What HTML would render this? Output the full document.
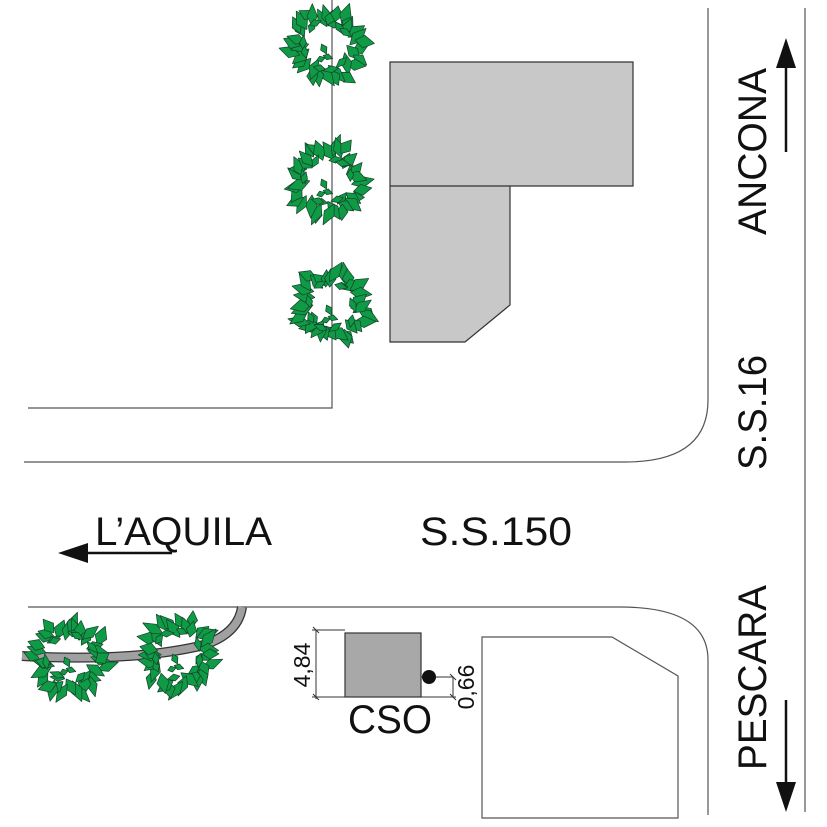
<!DOCTYPE html>
<html><head><meta charset="utf-8">
<style>html,body{margin:0;padding:0;background:#fff;}svg{display:block}</style>
</head><body>
<svg id="s" width="827" height="827" viewBox="0 0 827 827" xmlns="http://www.w3.org/2000/svg" font-family="Liberation Sans, Arial, sans-serif">
<rect width="827" height="827" fill="#fff"/>
<g fill="none" stroke="#555" stroke-width="1.2">
  <path d="M332 0 V408 H28"/>
  <path d="M24 462 H625 Q708 462 708 400 V8"/>
  <path d="M805 8 V812"/>
  <path d="M28 607 H620 Q708 607 708 660 V815"/>
  <path d="M482 637 H612 L678 676 V818 H482 Z"/>
</g>
<path d="M390 62 H633 V186 H510 V305 L465 342 H390 Z" fill="#c8c8c8" stroke="#333" stroke-width="1.2"/>
<path d="M390 186 H510" stroke="#333" stroke-width="1.2"/>
<path d="M22 656 Q130 662 200 646 Q238 635 242 607" fill="none" stroke="#333" stroke-width="10"/>
<path d="M22 656 Q130 662 200 646 Q238 635 242 607" fill="none" stroke="#a0a0a0" stroke-width="7.5"/>
<g id="trees"></g>
<rect x="345" y="633" width="76" height="64" fill="#a8a8a8" stroke="#333" stroke-width="1.2"/>
<g stroke="#333" stroke-width="1" fill="none">
  <path d="M316 630 V699 M312 630 H345 M312 697 H345 M313 627 L319 633 M313 694 L319 700"/>
  <path d="M421 677 H453 V697 M421 697 H456 M450 694 L456 700 M450 674 L456 680"/>
</g>
<circle cx="429" cy="677" r="7" fill="#111"/>
<g fill="#111" font-size="23">
  <text transform="translate(310 665) rotate(-90)" text-anchor="middle">4,84</text>
  <text transform="translate(474 687) rotate(-90)" text-anchor="middle">0,66</text>
</g>
<g fill="#111" font-size="40">
  <text x="348" y="733" textLength="84" lengthAdjust="spacingAndGlyphs">CSO</text>
  <text x="95" y="545" textLength="177" lengthAdjust="spacingAndGlyphs">L’AQUILA</text>
  <text x="420" y="545" textLength="152" lengthAdjust="spacingAndGlyphs">S.S.150</text>
  <text transform="translate(766 235) rotate(-90)" textLength="167" lengthAdjust="spacingAndGlyphs">ANCONA</text>
  <text transform="translate(766 470) rotate(-90)" textLength="115" lengthAdjust="spacingAndGlyphs">S.S.16</text>
  <text transform="translate(766 770) rotate(-90)" textLength="185" lengthAdjust="spacingAndGlyphs">PESCARA</text>
</g>
<g stroke="#111" stroke-width="2.5" fill="#111">
  <path d="M786 152 V65"/><path d="M786 38 L776 68 H796 Z" stroke="none"/>
  <path d="M786 700 V785"/><path d="M786 812 L776 782 H796 Z" stroke="none"/>
  <path d="M172 553 H85"/><path d="M58 553 L88 543 V563 Z" stroke="none"/>
</g>
</svg>
<script>
(function(){
var g=document.getElementById('trees');var ns='http://www.w3.org/2000/svg';
var centers=[[327,45],[327,180],[332,306],[70,658],[178,655]];
var seed=7;function rnd(){seed=(seed*9301+49297)%233280;return seed/233280;}
function leaf(x,y,a,len,w){
  var dx=Math.cos(a)*len/2,dy=Math.sin(a)*len/2,px=-Math.sin(a)*w/2,py=Math.cos(a)*w/2;
  var p=document.createElementNS(ns,'path');
  p.setAttribute('d','M'+(x-dx)+' '+(y-dy)+' L'+(x-dx*0.1+px)+' '+(y-dy*0.1+py)+' L'+(x+dx)+' '+(y+dy)+' L'+(x-dx*0.1-px)+' '+(y-dy*0.1-py)+'Z');
  p.setAttribute('fill','#0f9a45');p.setAttribute('stroke','#15402a');p.setAttribute('stroke-width','0.7');p.setAttribute('stroke-linejoin','round');
  g.appendChild(p);
}
centers.forEach(function(c){
  for(var i=0;i<34;i++){var a=i/34*Math.PI*2+rnd()*0.2;var r=27+rnd()*12;
    leaf(c[0]+Math.cos(a)*r,c[1]+Math.sin(a)*r,a+(rnd()-0.5)*1.4,16+rnd()*8,10+rnd()*3);}
  for(var j=0;j<10;j++){var b=j/10*Math.PI*2+rnd();var r2=21+rnd()*4;
    leaf(c[0]+Math.cos(b)*r2,c[1]+Math.sin(b)*r2,b+1.5+(rnd()-0.5),12+rnd()*4,7);}
  leaf(c[0]-3,c[1]+4,1.1,11,7);leaf(c[0]+1,c[1]+12,0.3,10,6);leaf(c[0]-6,c[1]+14,-0.3,9,6);
});
})();
</script>
</body></html>
